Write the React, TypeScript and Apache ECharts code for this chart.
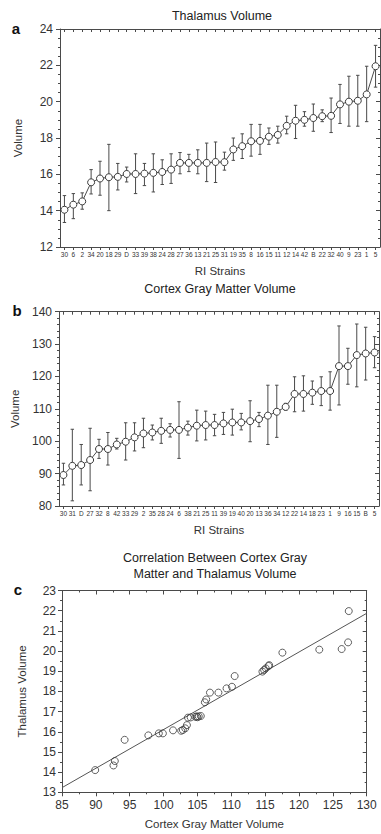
import React, { useEffect, useRef } from "react";
import * as echarts from "echarts";

const FONT = '"Liberation Sans", Arial, Helvetica, sans-serif';
const INK = "#333";
const LINE = "#4a4a4a";

// Panel a: Thalamus volume by RI strain
const strainsA = ["30","6","2","34","20","18","29","D","33","39","38","24","28","27","36","13","21","25","31","19","35","8","16","15","11","12","14","42","B","22","32","40","9","23","1","5"];
const thalamusMean = [14.05,14.33,14.51,15.56,15.77,15.84,15.86,16.02,16.02,16.04,16.08,16.13,16.26,16.63,16.63,16.63,16.63,16.68,16.67,17.37,17.55,17.82,17.84,18.07,18.17,18.67,18.95,19.0,19.1,19.2,19.22,19.85,20.0,20.05,20.4,21.95];
const thalamusLow = [13.35,13.56,14.08,14.92,14.85,14.0,15.14,15.58,14.94,15.38,15.03,15.44,15.5,16.03,16.15,16.03,15.6,15.55,16.23,16.77,16.87,17.0,17.1,17.65,17.72,18.23,17.97,18.65,18.37,18.9,18.3,18.8,18.65,18.65,18.9,20.8];
const thalamusHigh = [14.83,14.94,14.98,16.26,16.72,17.65,16.6,16.4,17.13,16.6,17.13,16.8,17.13,17.2,17.1,17.35,17.72,17.78,17.22,18.0,18.23,18.75,18.75,18.55,18.65,19.2,19.8,19.45,19.87,19.55,20.2,20.95,21.4,21.45,21.95,23.1];

// Panel b: Cortex gray matter volume by RI strain
const strainsB = ["30","31","D","27","32","8","42","33","29","2","35","28","24","6","38","21","25","11","39","19","40","20","13","36","34","12","22","14","18","23","1","9","16","15","B","5"];
const cortexMean = [89.57,92.4,92.65,94.2,97.6,97.6,99.0,99.85,101.2,102.4,102.7,103.2,103.5,103.5,104.2,104.8,105.0,105.0,105.5,105.8,105.8,106.2,106.85,107.9,109.1,110.6,114.6,114.6,115.0,115.5,115.5,123.2,123.2,126.6,127.1,127.4];
const cortexLow = [86.5,81.6,86.5,84.7,94.7,92.65,97.6,94.2,97.0,98.0,100.4,99.35,101.3,94.7,101.9,100.1,100.4,101.7,102.1,101.9,103.5,99.85,104.5,99.0,101.2,109.6,109.1,109.3,111.4,111.0,109.6,111.2,117.6,116.8,118.9,122.7];
const cortexHigh = [93.2,103.7,99.0,104.0,100.6,102.7,100.9,105.7,105.7,107.1,105.0,107.1,105.4,112.2,106.2,109.6,109.3,108.3,108.9,109.9,108.6,112.5,108.9,117.3,117.3,111.7,119.9,120.2,118.6,119.9,121.45,135.6,128.7,136.2,135.2,132.3];

// Panel c: correlation scatter
const scatterCortex = [89.9,92.6,92.8,94.25,97.75,99.3,99.9,101.4,102.6,102.85,103.2,103.45,103.6,104.0,104.7,104.9,105.0,105.2,105.5,106.1,106.3,106.85,108.1,109.3,110.1,110.5,114.6,114.85,115.1,115.5,115.6,117.55,123.0,126.3,127.25,127.35];
const scatterThalamus = [14.1,14.33,14.55,15.6,15.82,15.92,15.92,16.07,16.05,16.09,16.17,16.33,16.7,16.71,16.74,16.76,16.72,16.76,16.78,17.46,17.6,17.94,17.94,18.15,18.23,18.76,18.98,19.06,19.14,19.26,19.3,19.92,20.07,20.1,20.43,21.98];
const fitX = [85, 130];
const fitY = [13.23, 21.87];

const errorRender = (params: any, api: any) => {
  const x = api.value(0);
  const lo = api.coord([x, api.value(1)]);
  const hi = api.coord([x, api.value(2)]);
  const w = 1.7;
  const style = { stroke: LINE, lineWidth: 1 };
  return {
    type: "group",
    children: [
      { type: "line", shape: { x1: hi[0], y1: hi[1], x2: lo[0], y2: lo[1] }, style },
      { type: "line", shape: { x1: hi[0] - w, y1: hi[1], x2: hi[0] + w, y2: hi[1] }, style },
      { type: "line", shape: { x1: lo[0] - w, y1: lo[1], x2: lo[0] + w, y2: lo[1] }, style },
    ],
  };
};

const axisLine = { show: true, lineStyle: { color: LINE, width: 1 } };

function catAxes(grid: number, data: string[]) {
  return [
    {
      type: "category", gridIndex: grid, data, boundaryGap: true,
      axisLine, splitLine: { show: false },
      axisTick: { show: true, alignWithLabel: true, interval: 0, length: 3, lineStyle: { color: LINE } },
      axisLabel: { interval: 0, fontSize: 6.5, margin: 4, color: INK, fontFamily: FONT },
      name: "RI Strains", nameLocation: "middle", nameGap: 18,
      nameTextStyle: { fontSize: 11.5, color: INK, fontFamily: FONT },
    },
    {
      type: "category", gridIndex: grid, data, boundaryGap: true, position: "top",
      axisLine, splitLine: { show: false },
      axisTick: { show: true, inside: true, alignWithLabel: true, interval: 0, length: 3, lineStyle: { color: LINE } },
      axisLabel: { show: false },
    },
  ];
}

function valAxes(grid: number, min: number, max: number, interval: number, minor: number, name: string, nameGap: number, labelMargin: number, extra: any = {}) {
  return [
    {
      type: "value", gridIndex: grid, min, max, interval, position: extra.position || undefined,
      axisLine, splitLine: { show: false },
      axisTick: { show: true, length: 4, lineStyle: { color: LINE } },
      minorTick: { show: true, splitNumber: minor, length: 2, lineStyle: { color: LINE } },
      minorSplitLine: { show: false },
      axisLabel: { fontSize: 12, margin: labelMargin, color: INK, fontFamily: FONT },
      name, nameLocation: "middle", nameGap,
      nameTextStyle: { fontSize: 11.5, color: INK, fontFamily: FONT },
    },
    {
      type: "value", gridIndex: grid, min, max, interval, position: extra.mirror,
      axisLine, splitLine: { show: false },
      axisTick: { show: true, inside: true, length: 4, lineStyle: { color: LINE } },
      minorTick: { show: true, splitNumber: minor, length: 2, lineStyle: { color: LINE } },
      minorSplitLine: { show: false },
      axisLabel: { show: false },
    },
  ];
}

export default function App() {
  const ref = useRef<HTMLDivElement>(null);
  useEffect(() => {
    if (!ref.current) return;
    const chart = echarts.init(ref.current, undefined, { renderer: "svg" });

    const [xa0, xa1] = catAxes(0, strainsA);
    const [xb0, xb1] = catAxes(1, strainsB);
    const [xc0, xc1] = valAxes(2, 85, 130, 5, 2, "Cortex Gray Matter Volume", 26, 7, { position: "bottom", mirror: "top" });
    const [ya0, ya1] = valAxes(0, 12, 24, 2, 4, "Volume", 36, 7, { position: "left", mirror: "right" });
    const [yb0, yb1] = valAxes(1, 80, 140, 10, 5, "Volume", 36, 7, { position: "left", mirror: "right" });
    const [yc0, yc1] = valAxes(2, 13, 23, 1, 2, "Thalamus Volume", 34, 6, { position: "left", mirror: "right" });

    const letter = (t: string, x: number, y: number) => ({
      type: "text", x, y,
      style: { text: t, font: `bold 15px ${FONT}`, fill: "#111", align: "center", verticalAlign: "middle" },
    });
    const title = (t: string, x: number, y: number) => ({
      type: "text", x, y,
      style: { text: t, font: `12.5px ${FONT}`, fill: "#222", align: "center", verticalAlign: "middle" },
    });

    const scatterData = scatterCortex.map((c, i) => [c, scatterThalamus[i]]);
    const fitData = fitX.map((x, i) => [x, fitY[i]]);

    chart.setOption({
      animation: false,
      backgroundColor: "#fff",
      textStyle: { fontFamily: FONT },
      grid: [
        { left: 60, top: 29, width: 320, height: 218 },
        { left: 59, top: 311.7, width: 320, height: 194.3 },
        { left: 62, top: 590.5, width: 304.7, height: 201.8 },
      ],
      xAxis: [xa0, xa1, xb0, xb1, xc0, xc1],
      yAxis: [ya0, ya1, yb0, yb1, yc0, yc1],
      graphic: [
        title("Thalamus Volume", 222, 16),
        title("Cortex Gray Matter Volume", 220, 289),
        title("Correlation Between Cortex Gray", 215, 558),
        title("Matter and Thalamus Volume", 215, 574),
        letter("a", 16, 28),
        letter("b", 17, 310),
        letter("c", 18, 589),
      ],
      series: [
        {
          type: "custom", xAxisIndex: 0, yAxisIndex: 0, renderItem: errorRender,
          encode: { x: 0, y: [1, 2] },
          data: strainsA.map((_, i) => [i, thalamusLow[i], thalamusHigh[i]]),
          z: 2,
        },
        {
          type: "line", xAxisIndex: 0, yAxisIndex: 0, data: thalamusMean,
          symbol: "circle", symbolSize: 7,
          lineStyle: { color: LINE, width: 1 },
          itemStyle: { color: "#fff", borderColor: "#3a3a3a", borderWidth: 1 },
          z: 3,
        },
        {
          type: "custom", xAxisIndex: 2, yAxisIndex: 2, renderItem: errorRender,
          encode: { x: 0, y: [1, 2] },
          data: strainsB.map((_, i) => [i, cortexLow[i], cortexHigh[i]]),
          z: 2,
        },
        {
          type: "line", xAxisIndex: 2, yAxisIndex: 2, data: cortexMean,
          symbol: "circle", symbolSize: 7,
          lineStyle: { color: LINE, width: 1 },
          itemStyle: { color: "#fff", borderColor: "#3a3a3a", borderWidth: 1 },
          z: 3,
        },
        {
          type: "line", xAxisIndex: 4, yAxisIndex: 4, data: fitData,
          showSymbol: false, symbol: "none",
          lineStyle: { color: "#555", width: 1 }, z: 2,
        },
        {
          type: "scatter", xAxisIndex: 4, yAxisIndex: 4, data: scatterData,
          symbol: "circle", symbolSize: 7,
          itemStyle: { color: "rgba(255,255,255,0)", borderColor: "#3a3a3a", borderWidth: 1 },
          z: 3,
        },
      ],
    });
    return () => chart.dispose();
  }, []);

  return (
    <div
      ref={ref}
      style={{ position: "fixed", left: 0, top: 0, width: 381, height: 834, background: "#fff" }}
    />
  );
}
